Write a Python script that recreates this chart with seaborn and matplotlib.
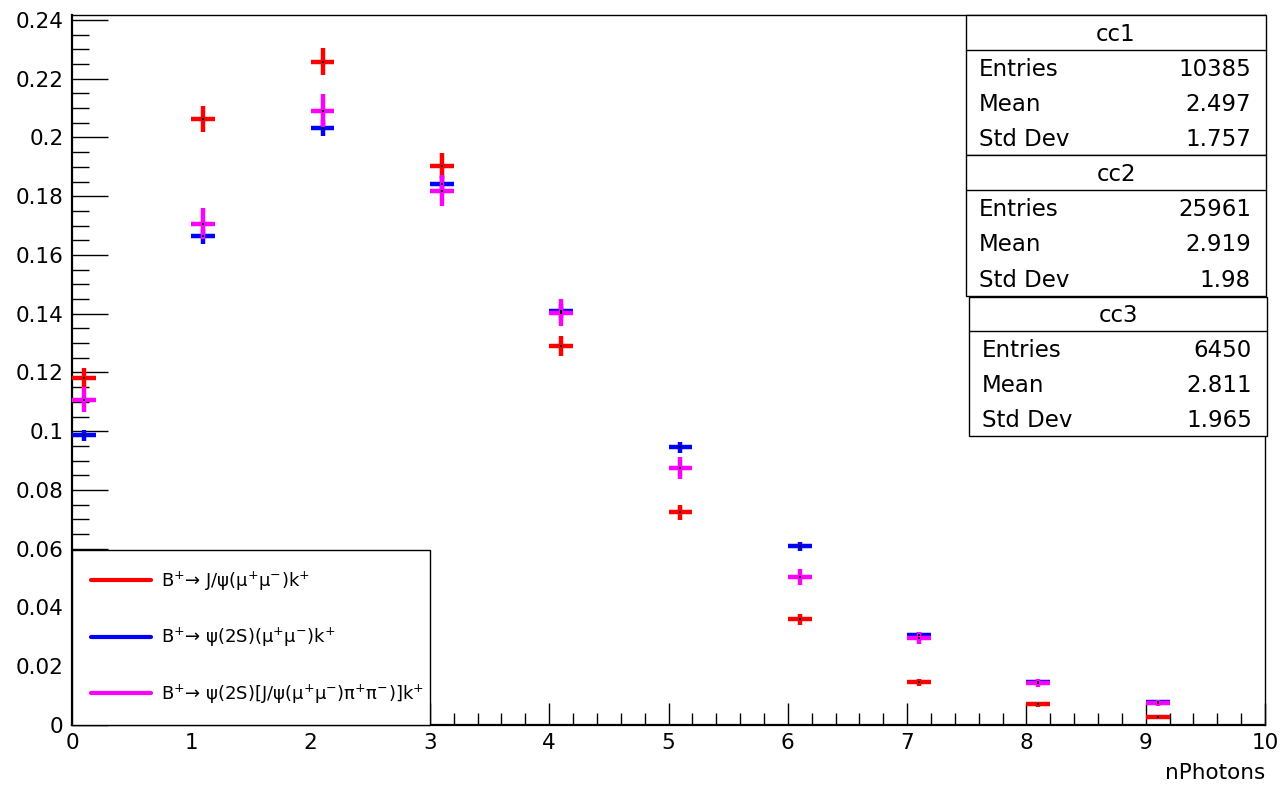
import numpy as np
import pandas as pd
import matplotlib
matplotlib.use("Agg")
import matplotlib.pyplot as plt
from matplotlib.patches import Rectangle
from matplotlib.lines import Line2D
import seaborn as sns

# ---------------- data ----------------
n_photons = [0, 1, 2, 3, 4, 5, 6, 7, 8, 9]
bin_width = 0.2

frac_jpsi = [0.1182, 0.2063, 0.2258, 0.1904, 0.1290, 0.0724, 0.0360, 0.0146, 0.0071, 0.0027]
frac_psi2s = [0.0986, 0.1663, 0.2033, 0.1843, 0.1410, 0.0945, 0.0609, 0.0306, 0.0145, 0.0078]
frac_psi2s_jpsipipi = [0.1108, 0.1707, 0.2091, 0.1819, 0.1404, 0.0874, 0.0503, 0.0296, 0.0143, 0.0075]

series_labels = [
    "B$^{+}$→ J/ψ(μ$^{+}$μ$^{-}$)k$^{+}$",
    "B$^{+}$→ ψ(2S)(μ$^{+}$μ$^{-}$)k$^{+}$",
    "B$^{+}$→ ψ(2S)[J/ψ(μ$^{+}$μ$^{-}$)π$^{+}$π$^{-}$)]k$^{+}$",
]
series_colors = ["#ff0000", "#0000ff", "#ff00ff"]

stat_names = ["cc1", "cc2", "cc3"]
stat_entries = ["10385", "25961", "6450"]
stat_means = ["2.497", "2.919", "2.811"]
stat_stddevs = ["1.757", "1.98", "1.965"]
entries_num = [10385, 25961, 6450]

x_ticks = [0, 1, 2, 3, 4, 5, 6, 7, 8, 9, 10]
y_ticks = [0, 0.02, 0.04, 0.06, 0.08, 0.1, 0.12, 0.14, 0.16, 0.18, 0.2, 0.22, 0.24]
y_tick_labels = ["0", "0.02", "0.04", "0.06", "0.08", "0.1", "0.12", "0.14",
                 "0.16", "0.18", "0.2", "0.22", "0.24"]

# ---------------- style ----------------
sns.set_theme(style="ticks")
plt.rcParams["font.family"] = ["DejaVu Sans"]
plt.rcParams["mathtext.fontset"] = "custom"
plt.rcParams["mathtext.rm"] = "DejaVu Sans"
plt.rcParams["mathtext.it"] = "DejaVu Sans"
plt.rcParams["mathtext.bf"] = "DejaVu Sans:bold"
plt.rcParams["text.color"] = "black"

W, H = 1282, 790
fig = plt.figure(figsize=(W / 100, H / 100), dpi=100)
ax_l, ax_r, ax_t, ax_b = 72, 1265, 15, 725
ax = fig.add_axes([ax_l / W, 1 - ax_b / H, (ax_r - ax_l) / W, (ax_b - ax_t) / H])

rows = []
for lab, vals, ent in zip(series_labels, [frac_jpsi, frac_psi2s, frac_psi2s_jpsipipi], entries_num):
    for n, v in zip(n_photons, vals):
        rows.append({"series": lab, "n": n, "x": n + bin_width / 2, "y": v,
                     "yerr": np.sqrt(v / ent)})
df = pd.DataFrame(rows)

for lab, col in zip(series_labels, series_colors):
    d = df[df["series"] == lab]
    ax.errorbar(d["x"], d["y"], xerr=bin_width / 2, yerr=d["yerr"], fmt="none",
                ecolor=col, elinewidth=3.2, capsize=0, zorder=3)
sns.scatterplot(data=df, x="x", y="y", color="black", s=2, marker="s",
                linewidth=0, legend=False, ax=ax, zorder=4)

ax.set_xlim(0, 10)
ax.set_ylim(0, 0.2417)
ax.set_xticks(x_ticks)
ax.set_xticklabels([str(t) for t in x_ticks])
ax.set_yticks(y_ticks)
ax.set_yticklabels(y_tick_labels)
ax.set_xticks(np.arange(0, 10.001, 0.2), minor=True)
ax.set_yticks(np.arange(0, 0.2417, 0.005), minor=True)
ax.tick_params(axis="both", which="both", direction="in", color="black",
               labelsize=15.5, labelcolor="black", top=False, right=False)
ax.tick_params(axis="y", which="major", length=26, width=1.0, pad=6)
ax.tick_params(axis="y", which="minor", length=12.5, width=1.0)
ax.tick_params(axis="x", which="major", length=16, width=1.0, pad=6)
ax.tick_params(axis="x", which="minor", length=8.5, width=1.0)
ax.set_xlabel("nPhotons", loc="right", fontsize=15.5, labelpad=7, color="black")
ax.set_ylabel("")
for s in ["left", "bottom"]:
    ax.spines[s].set_linewidth(1.6)
    ax.spines[s].set_color("black")
for s in ["top", "right"]:
    ax.spines[s].set_linewidth(1.0)
    ax.spines[s].set_color("black")

# legend
handles = [Line2D([], [], color=c, lw=3.0) for c in series_colors]
leg = ax.legend(handles, series_labels, loc="lower left",
                bbox_to_anchor=(0.0, 0.0, 0.3, 0.24), mode="expand",
                borderaxespad=0.0, fontsize=13.0, frameon=True, fancybox=False,
                framealpha=1.0, edgecolor="black", handlelength=3.3,
                handletextpad=0.6, labelspacing=1.85, borderpad=1.05,
                labelcolor="black")
leg.get_frame().set_linewidth(1.0)
leg.set_zorder(10)

# stats boxes
def fx(x):
    return x / W

def fy(y):
    return 1 - y / H

stat_fs = 16.5
cap_px = 0.729 * stat_fs * 100 / 72
boxes = [(966, 1266, 15, 50, 155), (966, 1266, 155, 190, 296), (969, 1267, 297, 331, 436)]
for (x0, x1, y0, ysep, y1), name, ent, mean, sd in zip(boxes, stat_names, stat_entries,
                                                      stat_means, stat_stddevs):
    fig.add_artist(Rectangle((fx(x0), fy(y1)), fx(x1) - fx(x0), fy(y0) - fy(y1),
                             transform=fig.transFigure, facecolor="white",
                             edgecolor="black", linewidth=1.0, zorder=20))
    fig.add_artist(Line2D([fx(x0), fx(x1)], [fy(ysep), fy(ysep)],
                          transform=fig.transFigure, color="black", lw=1.0, zorder=21))
    fig.text(fx((x0 + x1) / 2), fy((y0 + ysep) / 2 + cap_px / 2), name, ha="center",
             va="baseline", fontsize=stat_fs, color="black", zorder=22)
    row_h = (y1 - ysep) / 3
    for i, (k, v) in enumerate(zip(["Entries", "Mean", "Std Dev"], [ent, mean, sd])):
        yc = ysep + row_h * (i + 0.5) + cap_px / 2
        fig.text(fx(x0 + 13), fy(yc), k, ha="left", va="baseline", fontsize=stat_fs,
                 color="black", zorder=22)
        fig.text(fx(x1 - 15), fy(yc), v, ha="right", va="baseline", fontsize=stat_fs,
                 color="black", zorder=22)

fig.savefig("out.png", dpi=100, facecolor="white")
